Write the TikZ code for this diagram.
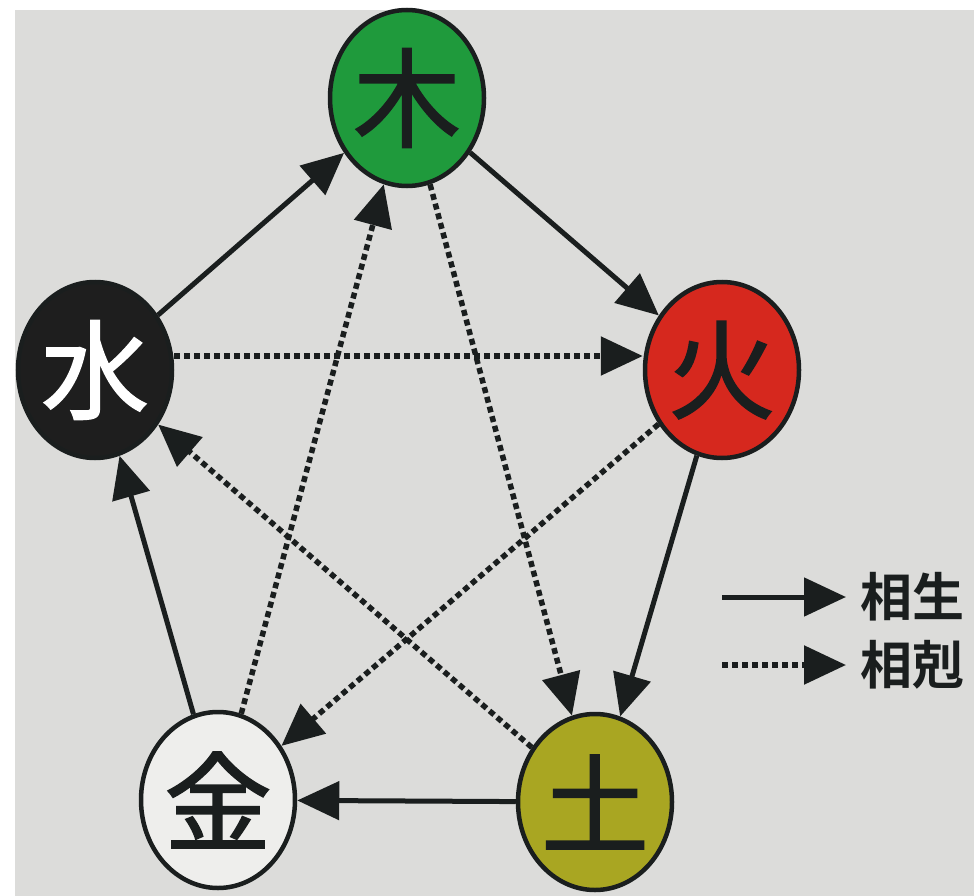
\documentclass[tikz,border=0pt]{standalone}
\usepackage{fontspec}
\newfontfamily\cjk{Noto Sans CJK JP}[BoldFont={Noto Sans CJK JP Bold}]
\newfontfamily\cjkm{Noto Sans CJK JP}[FakeBold=1.4]
\usetikzlibrary{shapes.geometric,arrows.meta}
\definecolor{bggray}{HTML}{DCDCDA}
\definecolor{mugreen}{HTML}{1F9A3C}
\definecolor{hored}{HTML}{D6281E}
\definecolor{doolive}{HTML}{A9A622}
\definecolor{suiblack}{HTML}{1E1E1E}
\definecolor{kinwhite}{HTML}{EEEEEC}
\definecolor{ink}{HTML}{1A1E1E}
\begin{document}
\begin{tikzpicture}[x=1pt,y=-1pt,
  elem/.style={ellipse, draw=ink, line width=4.5pt, minimum width=154pt, minimum height=176pt, inner sep=-30pt, font=\cjkm\fontsize{108}{108}\selectfont},
  sheng/.style={draw=ink, line width=5pt, -{Triangle[length=42pt,width=38pt]}},
  ke/.style={draw=ink, line width=5.5pt, dash pattern=on 6pt off 4pt, -{Triangle[length=42pt,width=38pt]}},
  legtext/.style={font=\cjk\bfseries\fontsize{52}{52}\selectfont, text=ink, anchor=west, inner sep=0pt}]
\useasboundingbox (0,0) rectangle (974,896);
\fill[white] (0,0) rectangle (974,896);
\fill[bggray] (15,10) rectangle (974,896);
\node[elem, fill=mugreen, text=ink] (mu) at (407,98) {木};
\node[elem, fill=suiblack, text=white] (shui) at (95,370) {水};
\node[elem, fill=hored, text=ink] (huo) at (722,370) {火};
\node[elem, fill=kinwhite, text=ink] (jin) at (218,800) {金};
\node[elem, fill=doolive, text=ink] (tu) at (595,802) {土};
% sheng cycle
\draw[sheng] (shui) -- (mu);
\draw[sheng] (mu) -- (huo);
\draw[sheng] (huo) -- (tu);
\draw[sheng] (tu) -- (jin);
\draw[sheng] (jin) -- (shui);
% ke cycle
\draw[ke] ([yshift=14pt]shui.east) -- ([yshift=14pt]huo.west);
\draw[ke] (huo) -- (jin);
\draw[ke] (jin) -- (mu);
\draw[ke] (mu) -- (tu);
\draw[ke] (tu) -- (shui);
% legend
\coordinate (l1s) at (722,597);
\coordinate (l1e) at (846,597);
\coordinate (l2s) at (722,665);
\coordinate (l2e) at (846,665);
\draw[sheng] (l1s) -- (l1e);
\draw[ke] (l2s) -- (l2e);
\node[legtext] (t1) at (860,597) {相生};
\node[legtext] (t2) at (860,665) {相剋};
\end{tikzpicture}
\end{document}
